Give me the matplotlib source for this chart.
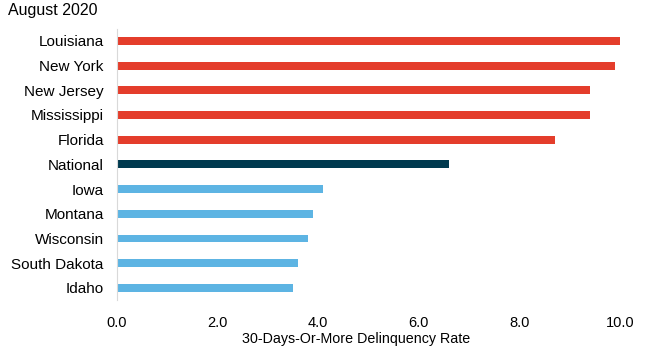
import matplotlib
matplotlib.use("Agg")
import matplotlib.pyplot as plt
import numpy as np

plt.rcParams["font.family"] = ["Liberation Sans", "DejaVu Sans"]

# August 2020 30+ day delinquency rates
states = ["Louisiana", "New York", "New Jersey", "Mississippi", "Florida",
          "National", "Iowa", "Montana", "Wisconsin", "South Dakota", "Idaho"]
rates = [10.0, 9.9, 9.4, 9.4, 8.7, 6.6, 4.1, 3.9, 3.8, 3.6, 3.5]
groups = ["high", "high", "high", "high", "high", "national",
          "low", "low", "low", "low", "low"]

group_colors = {"high": "#E43D2B", "national": "#003A4F", "low": "#5DB4E3"}
x_ticks = [0, 2, 4, 6, 8, 10]

fig = plt.figure(figsize=(6.5, 3.52), dpi=100)
ax = fig.add_axes([0.18, 0.147, 0.774, 0.772])

y = np.arange(len(states))
ax.barh(y, rates, height=0.32, color=[group_colors[g] for g in groups])

ax.set_yticks(y)
ax.set_yticklabels(states, fontsize=11)
ax.set_ylim(len(states) - 0.5, -0.5)

ax.set_xlim(0, 10)
ax.set_xticks(x_ticks)
ax.set_xticklabels([f"{t:.1f}" for t in x_ticks], fontsize=10.5)
ax.set_xlabel("30-Days-Or-More Delinquency Rate", fontsize=10.3)
ax.xaxis.set_label_coords(0.476, -0.115)

for side in ["top", "right", "bottom"]:
    ax.spines[side].set_visible(False)
ax.spines["left"].set_color("#D9D9D9")
ax.tick_params(axis="both", length=0)
ax.tick_params(axis="y", pad=9.5)
ax.tick_params(axis="x", pad=11)

fig.text(0.012, 0.97, "August 2020", fontsize=11.5, ha="left", va="center")

plt.savefig("out.png", dpi=100)
plt.close()
